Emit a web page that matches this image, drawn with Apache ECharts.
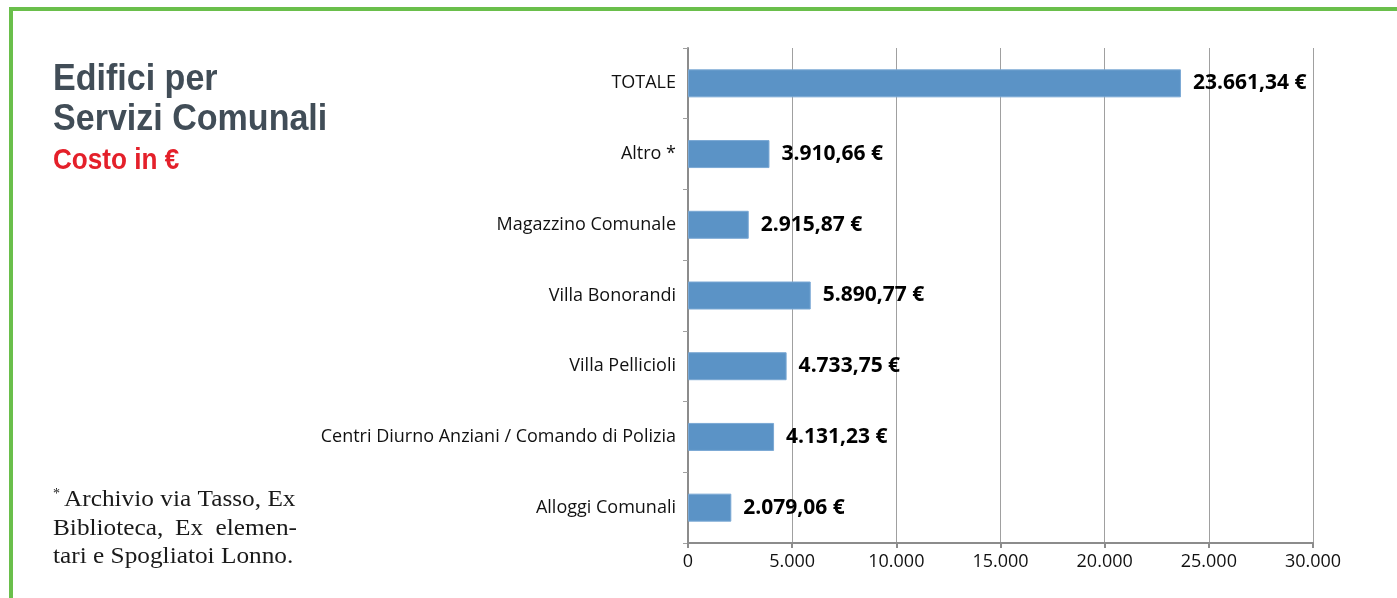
<!DOCTYPE html>
<html>
<head>
<meta charset="utf-8">
<script src="https://cdn.jsdelivr.net/npm/echarts@6/dist/echarts.min.js"></script>
<style>
  html, body { margin: 0; padding: 0; background: #ffffff; }
  #chart { width: 1397px; height: 598px; }
</style>
</head>
<body>
<div id="chart"></div>
<script>
// Building categories (top to bottom) and yearly cost in euro
const categories = [
  'TOTALE',
  'Altro *',
  'Magazzino Comunale',
  'Villa Bonorandi',
  'Villa Pellicioli',
  'Centri Diurno Anziani / Comando di Polizia',
  'Alloggi Comunali'
];
const costs = [23661.34, 3910.66, 2915.87, 5890.77, 4733.75, 4131.23, 2079.06];

const axisMin = 0;
const axisMax = 30000;
const axisStep = 5000;

const titleLines = ['Edifici per', 'Servizi Comunali'];
const subtitle = 'Costo in €';
const noteMark = '*';
const noteLine1 = 'Archivio via Tasso, Ex';
const noteLine2Words = ['Biblioteca,', 'Ex', 'elemen-'];
const noteLine3 = 'tari e Spogliatoi Lonno.';

// Italian number formatting: 23661.34 -> "23.661,34 €"
function fmtEuro(v) {
  const parts = v.toFixed(2).split('.');
  const int = parts[0].replace(/\B(?=(\d{3})+(?!\d))/g, '.');
  return int + ',' + parts[1] + ' €';
}
function fmtTick(v) {
  return String(v).replace(/\B(?=(\d{3})+(?!\d))/g, '.');
}

const chart = echarts.init(document.getElementById('chart'), null, { renderer: 'canvas' });

const headFont = '"Liberation Sans", Arial, sans-serif';
const serifFont = '"Liberation Serif", "DejaVu Serif", serif';

function headText(str, x, y, size, color, sx) {
  return { type: 'text', x: x, y: y, scaleX: sx,
    style: { text: str, font: 'bold ' + size + 'px ' + headFont, fill: color,
             align: 'left', verticalAlign: 'middle' } };
}
function noteText(str, x, y, align) {
  return { type: 'text', x: x, y: y, scaleX: 1.1,
    style: { text: str, font: '23px ' + serifFont, fill: '#1a1a1a',
             align: align || 'left', verticalAlign: 'middle' } };
}

const graphics = [
  // green frame
  { type: 'rect', shape: { x: 11, y: 9, width: 1400, height: 600 },
    style: { fill: 'none', stroke: '#6abf4b', lineWidth: 4 }, silent: true },
  headText(titleLines[0], 53, 80, 37, '#414d57', 0.92),
  headText(titleLines[1], 53, 120, 37, '#414d57', 0.92),
  headText(subtitle, 53, 161, 30, '#e4202a', 0.87),
  // footnote
  { type: 'text', x: 53, y: 494,
    style: { text: noteMark, font: '14px ' + serifFont, fill: '#1a1a1a', align: 'left', verticalAlign: 'middle' } },
  noteText(noteLine1, 64, 500),
  noteText(noteLine2Words[0], 53, 528.5),
  noteText(noteLine2Words[1], 175, 528.5),
  noteText(noteLine2Words[2], 297, 528.5, 'right'),
  noteText(noteLine3, 53, 557)
];

chart.setOption({
  animation: false,
  backgroundColor: '#ffffff',
  graphic: graphics,
  grid: { left: 688, right: 84, top: 48, bottom: 55, containLabel: false },
  xAxis: {
    type: 'value',
    min: axisMin,
    max: axisMax,
    interval: axisStep,
    axisLine: { show: true, lineStyle: { color: '#8c8c8c', width: 2 } },
    axisTick: { show: true, length: 5, lineStyle: { color: '#8c8c8c', width: 2 } },
    splitLine: { show: true, lineStyle: { color: '#a0a0a0', width: 1 } },
    axisLabel: {
      formatter: fmtTick,
      fontFamily: '"Open Sans", sans-serif',
      fontSize: 18,
      color: '#111111',
      margin: 10
    }
  },
  yAxis: {
    type: 'category',
    data: categories,
    inverse: true,
    axisLine: { show: true, lineStyle: { color: '#8c8c8c', width: 2 } },
    axisTick: { show: true, length: 5, lineStyle: { color: '#a0a0a0', width: 1 } },
    axisLabel: {
      fontFamily: '"Open Sans", sans-serif',
      fontSize: 18,
      color: '#111111',
      margin: 12
    }
  },
  series: [{
    type: 'bar',
    data: costs,
    barWidth: 28,
    itemStyle: { color: '#5b93c6', borderColor: '#7aa8d4', borderWidth: 1 },
    label: {
      show: true,
      position: 'right',
      distance: 12,
      formatter: function (p) { return fmtEuro(p.value); },
      fontFamily: '"Open Sans", sans-serif',
      fontWeight: 'bold',
      fontSize: 21,
      color: '#000000'
    }
  }]
});
</script>
</body>
</html>
